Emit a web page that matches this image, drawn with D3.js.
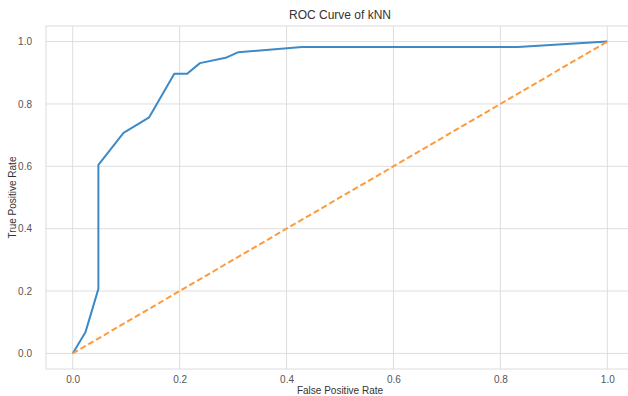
<!DOCTYPE html>
<html>
<head>
<meta charset="utf-8">
<script src="https://cdn.jsdelivr.net/npm/d3@7"></script>
<style>
  html, body { margin: 0; padding: 0; background: #fff; overflow: hidden; }
  svg { display: block; font-family: "Liberation Sans", Arial, sans-serif; }
</style>
</head>
<body>
<svg id="chart" width="628" height="396"></svg>
<script>
const fpr = [0, 0.024, 0.048, 0.048, 0.095, 0.143, 0.19, 0.214, 0.238, 0.286, 0.31, 0.429, 0.833, 1.0];
const tpr = [0, 0.069, 0.207, 0.605, 0.707, 0.757, 0.897, 0.897, 0.931, 0.948, 0.966, 0.983, 0.983, 1.0];
const diagX = [0, 1];
const diagY = [0, 1];
const xTicks = [0.0, 0.2, 0.4, 0.6, 0.8, 1.0];
const yTicks = [0.0, 0.2, 0.4, 0.6, 0.8, 1.0];
const title = "ROC Curve of kNN";
const xLabel = "False Positive Rate";
const yLabel = "True Positive Rate";

const svg = d3.select("#chart");
const pLeft = 46, pRight = 634, pTop = 26, pBottom = 369;
const x = d3.scaleLinear().domain([-0.05, 1.05]).range([pLeft, pRight]);
const y = d3.scaleLinear().domain([-0.05, 1.05]).range([pBottom, pTop]);

const g = svg.append("g");
// grid
g.selectAll(".gx").data(xTicks).enter().append("line")
  .attr("x1", d => x(d)).attr("x2", d => x(d)).attr("y1", pTop).attr("y2", pBottom)
  .attr("stroke", "#dedede").attr("stroke-width", 1);
g.selectAll(".gy").data(yTicks).enter().append("line")
  .attr("y1", d => y(d)).attr("y2", d => y(d)).attr("x1", pLeft).attr("x2", pRight)
  .attr("stroke", "#dedede").attr("stroke-width", 1);
// frame
g.append("rect").attr("x", pLeft).attr("y", pTop).attr("width", pRight - pLeft).attr("height", pBottom - pTop)
  .attr("fill", "none").attr("stroke", "#dcdcdc").attr("stroke-width", 1);

// axes
const xAxis = d3.axisBottom(x).tickValues(xTicks).tickFormat(d3.format(".1f")).tickSize(0).tickPadding(7);
const yAxis = d3.axisLeft(y).tickValues(yTicks).tickFormat(d3.format(".1f")).tickSize(0).tickPadding(14);
const ax = svg.append("g").attr("transform", `translate(0,${pBottom})`).call(xAxis);
const ay = svg.append("g").attr("transform", `translate(${pLeft},0)`).call(yAxis);
[ax, ay].forEach(a => {
  a.select(".domain").remove();
  a.selectAll("text").attr("fill", "#555").style("font-size", "10px");
});

// lines
const pts = fpr.map((d, i) => [d, tpr[i]]);
const line = d3.line().x(d => x(d[0])).y(d => y(d[1]));
svg.append("path").datum(pts).attr("d", line)
  .attr("fill", "none").attr("stroke", "#3d8ac6").attr("stroke-width", 2).attr("stroke-linejoin", "round");
svg.append("path").datum(diagX.map((d, i) => [d, diagY[i]])).attr("d", line)
  .attr("fill", "none").attr("stroke", "#ff9a3c").attr("stroke-width", 2).attr("stroke-dasharray", "6,3");

// title and labels
svg.append("text").attr("x", (pLeft + pRight) / 2).attr("y", 19).attr("text-anchor", "middle")
  .attr("fill", "#333").style("font-size", "12px").text(title);
svg.append("text").attr("x", (pLeft + pRight) / 2).attr("y", 394).attr("text-anchor", "middle")
  .attr("fill", "#333").style("font-size", "10px").text(xLabel);
svg.append("text").attr("transform", `translate(16,${(pTop + pBottom) / 2}) rotate(-90)`).attr("text-anchor", "middle")
  .attr("fill", "#333").style("font-size", "10px").text(yLabel);
</script>
</body>
</html>
